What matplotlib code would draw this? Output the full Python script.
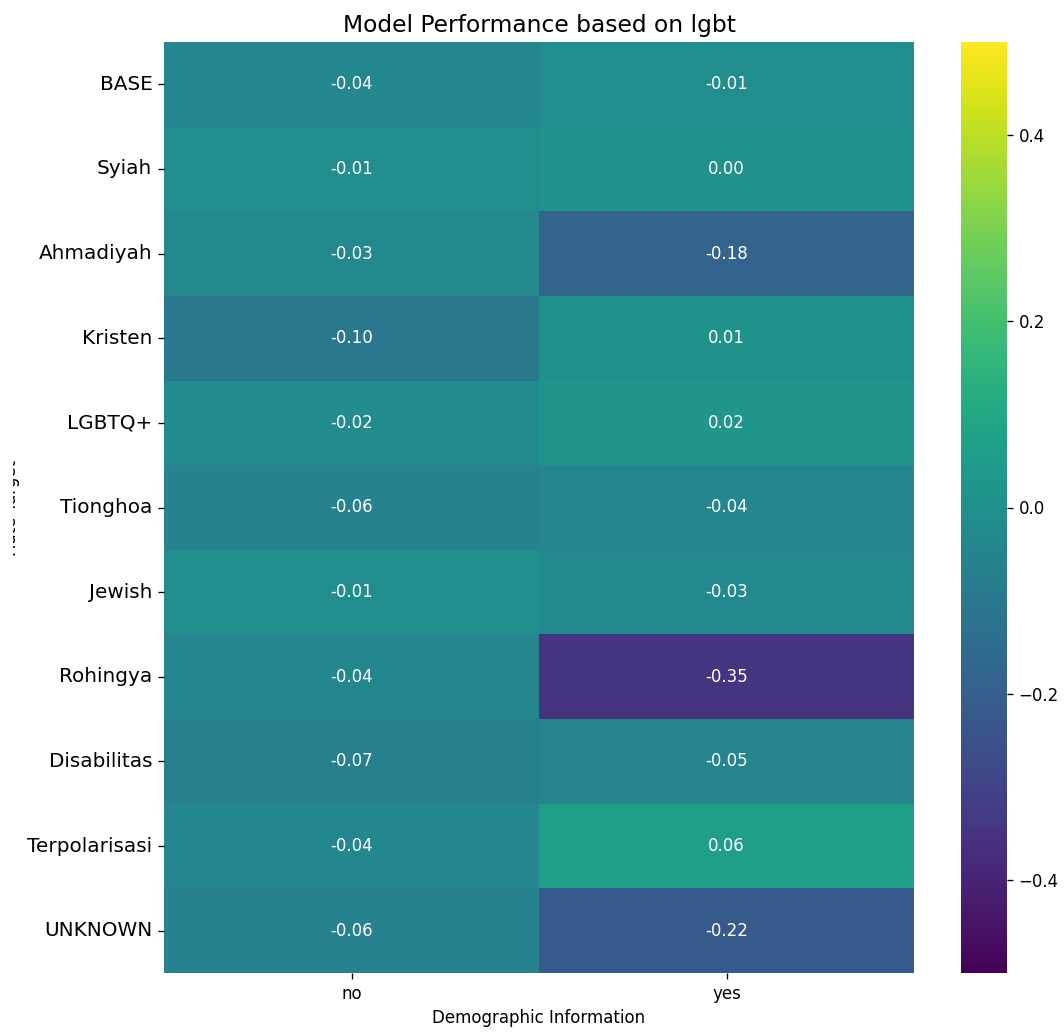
import numpy as np
import matplotlib
matplotlib.use('Agg')
import matplotlib.pyplot as plt
import seaborn as sns
from matplotlib.transforms import Bbox, TransformedBbox

targets = ['BASE', 'Syiah', 'Ahmadiyah', 'Kristen', 'LGBTQ+', 'Tionghoa', 'Jewish',
           'Rohingya', 'Disabilitas', 'Terpolarisasi', 'UNKNOWN']
kolom = ['no', 'yes']
nilai_no = [-0.04, -0.01, -0.03, -0.10, -0.02, -0.06, -0.01, -0.04, -0.07, -0.04, -0.06]
nilai_yes = [-0.01, 0.00, -0.18, 0.01, 0.02, -0.04, -0.03, -0.35, -0.05, 0.06, -0.22]

dados = np.column_stack([nilai_no, nilai_yes])

# gambar asli kelihatannya dibuat dengan dpi 120
fig = plt.figure(figsize=(1064/120, 1032/120), dpi=120)
ax = fig.add_axes([164/1064, 1 - 973/1032, 750/1064, 931/1032])
cax = fig.add_axes([961/1064, 1 - 973/1032, 46/1064, 931/1032])

sns.heatmap(dados, ax=ax, cbar_ax=cax, cmap='viridis', vmin=-0.5, vmax=0.5,
            annot=True, fmt='.2f', annot_kws={'size': 10},
            xticklabels=kolom, yticklabels=targets)

ax.set_title('Model Performance based on lgbt', fontsize=14)
ax.set_xlabel('Demographic Information')
ax.set_ylabel('Hate Target')
ax.yaxis.set_label_coords(-0.192, 0.5)
# label sumbu y terpotong di tepi kiri seperti di gambar asli
lbl = ax.yaxis.label
lbl.set_clip_box(TransformedBbox(Bbox([[13/1064, 0], [1, 1]]), fig.transFigure))
lbl.set_clip_on(True)
ax.tick_params(axis='y', labelsize=12, rotation=0)
ax.tick_params(axis='x', labelsize=10)
cax.tick_params(labelsize=10)

fig.savefig('out.png', dpi=120)
